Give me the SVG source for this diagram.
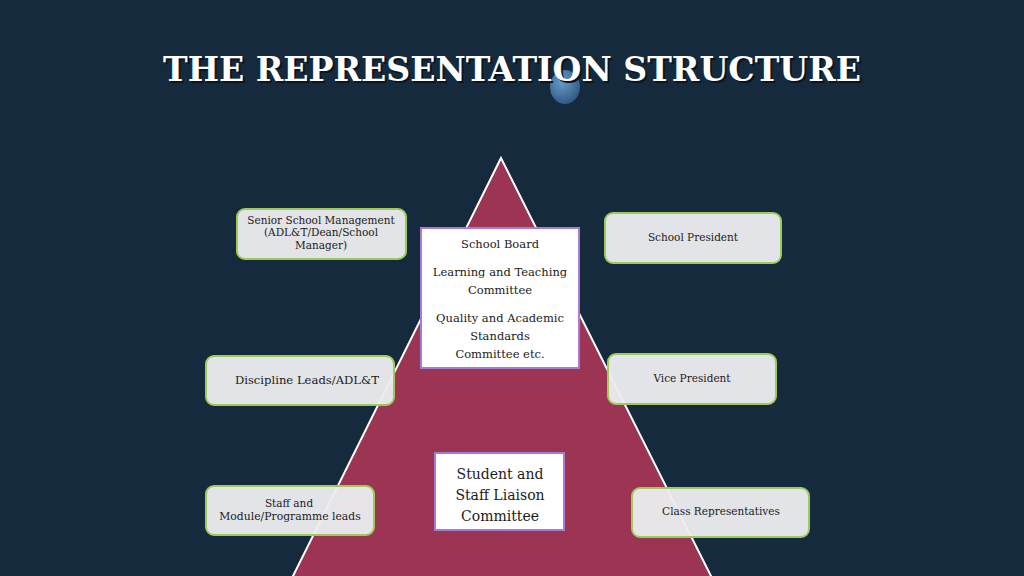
<svg xmlns="http://www.w3.org/2000/svg" width="1024" height="576" viewBox="0 0 1024 576">
<defs>
<radialGradient id="orb" cx="0.4" cy="0.35" r="0.7">
<stop offset="0" stop-color="#6a9ccc"/>
<stop offset="1" stop-color="#2d5680"/>
</radialGradient>
<style>
.gbox{fill:#ebecee;fill-opacity:0.96;stroke:#9ccb5a;stroke-width:2}
.wbox{fill:#ffffff;stroke:#a77bd0;stroke-width:2}
.t{font-family:"DejaVu Serif","Liberation Serif",serif;fill:#1b1b1b;text-anchor:middle}
.s{font-size:10.5px}
.m{font-size:11.5px}
.l{font-size:14px}
.title{font-family:"DejaVu Serif","Liberation Serif",serif;font-weight:bold;font-size:34px;text-anchor:middle}
</style>
</defs>
<rect width="1024" height="576" fill="#152a3d"/>
<ellipse cx="565" cy="87" rx="15" ry="17" fill="url(#orb)"/>
<text class="title" x="514" y="83" fill="#0a1520" textLength="698" lengthAdjust="spacingAndGlyphs">THE REPRESENTATION STRUCTURE</text>
<text class="title" x="512" y="81" fill="#ffffff" textLength="698" lengthAdjust="spacingAndGlyphs">THE REPRESENTATION STRUCTURE</text>
<polygon points="501,158 292,578 712,578" fill="#9c3453" stroke="#ffffff" stroke-width="2"/>
<g id="connectors"></g>
<g id="senior">
<rect class="gbox" x="237" y="209" width="169" height="50" rx="8"/>
<text class="t s" x="321" y="224">Senior School Management</text>
<text class="t s" x="321" y="236">(ADL&amp;T/Dean/School</text>
<text class="t s" x="321" y="249">Manager)</text>
</g>
<g id="president">
<rect class="gbox" x="605" y="213" width="176" height="50" rx="8"/>
<text class="t s" x="693" y="241">School President</text>
</g>
<g id="discipline">
<rect class="gbox" x="206" y="356" width="188" height="49" rx="8"/>
<text class="t" x="307" y="384" style="font-size:11.6px">Discipline Leads/ADL&amp;T</text>
</g>
<g id="vice">
<rect class="gbox" x="608" y="354" width="168" height="50" rx="8"/>
<text class="t s" x="692" y="382">Vice President</text>
</g>
<g id="staff">
<rect class="gbox" x="206" y="486" width="168" height="49" rx="8"/>
<text class="t s" x="289" y="507">Staff and</text>
<text class="t" x="290" y="520" style="font-size:10.8px">Module/Programme leads</text>
</g>
<g id="classreps">
<rect class="gbox" x="632" y="488" width="177" height="49" rx="8"/>
<text class="t s" x="721" y="515">Class Representatives</text>
</g>
<g id="board">
<rect class="wbox" x="421" y="228" width="158" height="140"/>
<text class="t m" x="500" y="248">School Board</text>
<text class="t m" x="500" y="276">Learning and Teaching</text>
<text class="t m" x="500" y="294">Committee</text>
<text class="t m" x="500" y="322">Quality and Academic</text>
<text class="t m" x="500" y="340">Standards</text>
<text class="t m" x="500" y="358">Committee etc.</text>
</g>
<g id="sslc">
<rect class="wbox" x="435" y="453" width="129" height="77"/>
<text class="t l" x="500" y="479">Student and</text>
<text class="t l" x="500" y="500">Staff Liaison</text>
<text class="t l" x="500" y="521">Committee</text>
</g>
</svg>
